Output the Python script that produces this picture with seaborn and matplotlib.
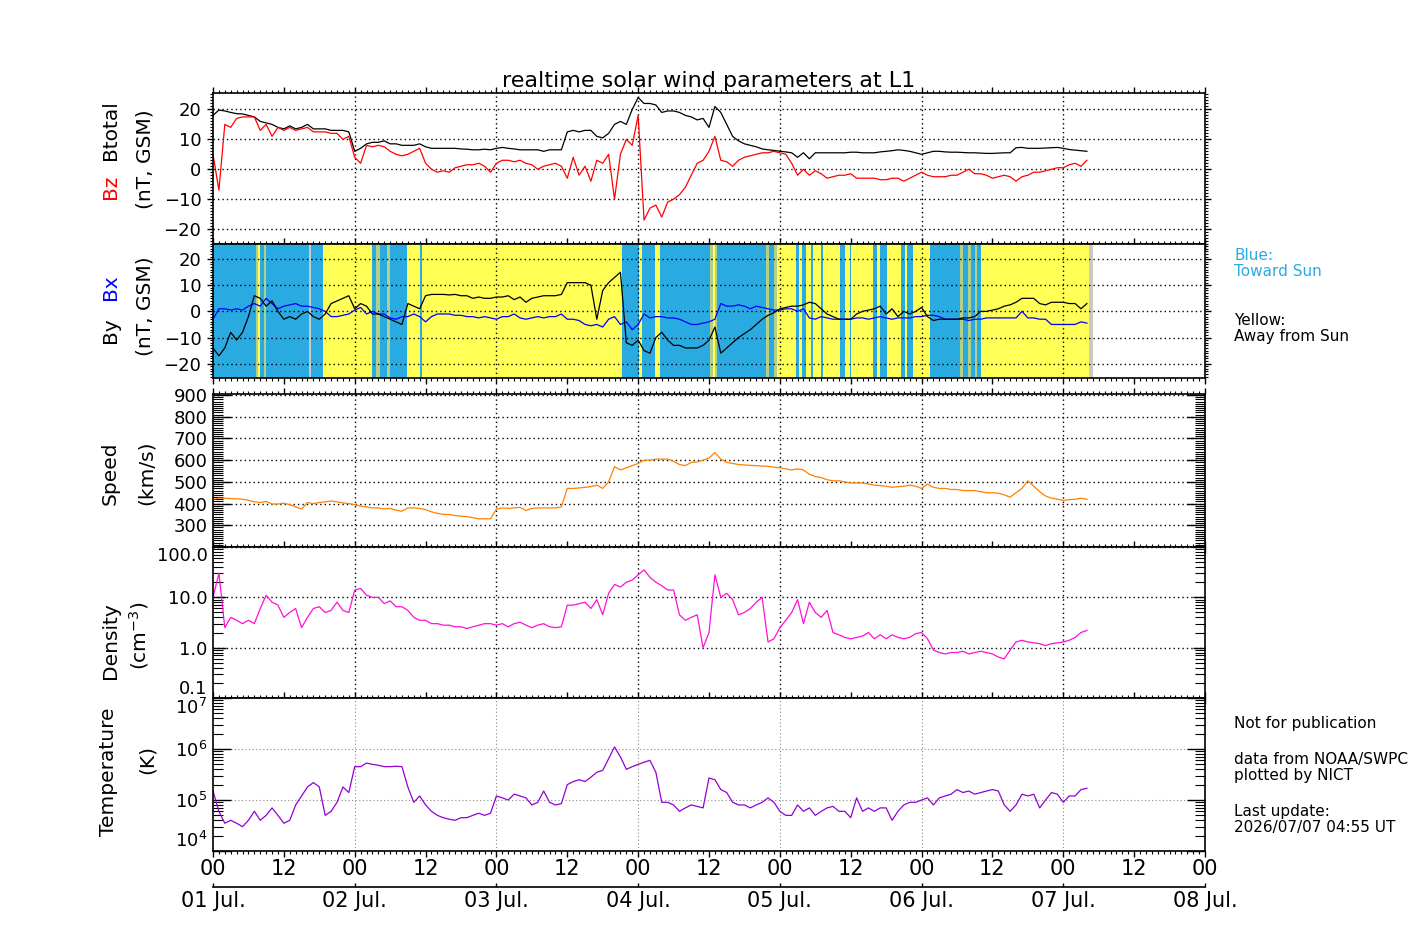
import numpy as np
import matplotlib
matplotlib.use('Agg')
import matplotlib.pyplot as plt
from matplotlib.ticker import MultipleLocator, LogLocator, FixedLocator, NullFormatter
import seaborn as sns

# hourly samples, hours since 01 Jul 00 UT
hours = np.arange(149)

btotal = [18, 19.8, 19.5, 19, 18.6, 18.5, 18, 17.5, 16, 15.5,
          15, 14, 13.5, 14.5, 13.5, 14, 15, 13.5, 13.5, 13.5,
          13, 13, 13, 12.5, 6, 7, 8.5, 9, 9, 9.5,
          8.5, 8.5, 8, 8, 8, 8.5, 7.5, 7, 7, 7,
          7, 7, 6.8, 6.7, 6.5, 6.5, 6.7, 6.5, 7, 7.3,
          7, 6.8, 6.5, 6.5, 6.5, 6.5, 6, 6.5, 6.5, 6.5,
          12.5, 13, 12.5, 13, 13, 11, 10.5, 12, 15, 16,
          15, 20, 24, 22, 22, 21.5, 19, 19.5, 19.5, 19,
          18, 17.5, 16.5, 17, 14, 21, 19, 15, 11, 9.5,
          8.5, 8, 7.5, 6.8, 6.5, 6.3, 6, 5.8, 5.5, 4,
          5.5, 3.5, 5.5, 5.5, 5.5, 5.5, 5.5, 5.5, 5.7, 5.7,
          5.5, 5.5, 5.5, 5.8, 6, 6.2, 6.5, 6.3, 6, 5.5,
          5, 5.5, 6, 6, 5.8, 5.7, 5.7, 5.6, 5.5, 5.5,
          5.4, 5.3, 5.3, 5.4, 5.5, 5.5, 7.2, 7.3, 7, 7,
          7, 7.1, 7.2, 7.3, 7, 6.6, 6.4, 6.2, 6]

bz = [5, -7, 15, 14, 17, 17.5, 17.5, 17.5, 13, 15,
      11, 14, 13, 14, 13, 13.5, 14, 12.5, 12.5, 12.5,
      12, 12, 10, 11, 4, 2, 8, 7.5, 8, 7.5,
      6, 5, 4.5, 5, 6, 7, 2, 0, -1, -0.5,
      -1, 0.5, 1, 1.5, 1.5, 2, 1, -1, 2, 3,
      3, 2.5, 3, 2, 1.5, 0, 1, 1.5, 2, 1,
      -3, 4, -2, 1, -4, 3, 2, 5, -10, 5,
      10, 8, 18, -17, -13, -12, -16, -11, -10, -8.5,
      -6, -2, 2, 3, 6, 11, 3, 2.5, 1, 3,
      4, 4.5, 5, 5.5, 5.5, 6, 5.5, 5, 2, -2,
      0, -2, -0.5, -1.5, -3, -2.5, -2, -2, -1.5, -3,
      -3, -3, -3, -3.5, -3.5, -3, -3, -4, -3, -2,
      -1, -2, -2.5, -2.5, -2.5, -2, -2, -1, 0, -1.5,
      -1.5, -2, -3, -2.5, -2, -2.5, -4, -2.5, -2, -1,
      -1, -0.5, 0, 0.5, 0.5, 1.5, 2, 1, 3]

by = [-14, -17, -14, -8, -11, -8, -2, 6, 5, 2,
      4, 0, -3, -2, -3, -1, 0, -2, -3, -1,
      3, 4, 5, 6, 1, 3, 2, -1, -1, -2,
      -3, -4, -5, 3, 2, 1, 6, 6.5, 6.5, 6.5,
      6.3, 6.5, 6, 6, 5, 5.5, 5, 5, 5.5, 5.5,
      6, 4.5, 5.5, 3.5, 5, 5.5, 6, 6, 6, 6.5,
      11, 11, 11, 11, 10, -3, 8, 11, 13, 15,
      -12, -13, -11, -15, -16, -10, -8, -11, -13, -13,
      -14, -14, -14, -13, -11, -6, -16, -14, -12, -10,
      -8.5, -7, -5, -3, -1.5, -0.5, 1, 1.5, 2, 2,
      2.5, 3.5, 3, 1, -1, -2, -3, -3, -3, -1,
      0, 0.5, 1, 2, -1, 1, -2, 0, -1, 0,
      1.5, -2, -3.5, -3, -3, -3, -3, -2.5, -2.5, -2,
      0, 0, 0.5, 1, 2, 2.5, 3.5, 5, 5, 5,
      3, 2.5, 3.5, 3.5, 3.5, 3, 3, 1, 3]

bx = [-3, 1, 1, 0.5, 1, 0.5, 2, 3, 2, 5,
      3, 1, 2, 2.5, 3, 2, 2, 1.5, 1, 0,
      -2, -2, -1.5, -1, 0.5, 1.5, -1, 0, -1, -1,
      -2.5, -3, -2, -2, -1, -2, -4, -2, -1, -1,
      -1, -1.5, -1.5, -2, -2, -2.5, -2, -2.5, -3, -2,
      -2, -1, -2.5, -3, -2.5, -2, -2.5, -2, -2, -1,
      -3, -3, -3.5, -5, -5.5, -5, -6, -3, -2, -5,
      -4, -7, -5, -1, -2.5, -2, -2, -2.5, -2.5, -3,
      -4, -5, -5, -4.5, -4, -3, 3, 2, 2, 2.5,
      2, 1, 2, 1.5, 1, 0.5, 0.5, 1, 1, 0,
      1, -2.5, -3, -2, -2.5, -3, -3, -3, -3, -2.5,
      -2.5, -3, -2.5, -2, -2.5, -3, -2.5, -2.5, -2.5, -2,
      -2, -1.5, -1.5, -2, -3, -3, -3, -3, -3.5, -3,
      -3, -2.5, -2.5, -2.5, -2.5, -2.5, -2.5, 0, -2.5, -2.5,
      -3, -3, -5, -5, -5, -5, -5, -4, -4.5]

speed = [420, 425, 425, 423, 422, 420, 415, 408, 405, 410,
         398, 398, 402, 395, 385, 375, 405, 400, 405, 408,
         412, 408, 403, 400, 395, 388, 385, 380, 380, 375,
         378, 370, 365, 380, 380, 378, 372, 362, 355, 350,
         350, 345, 342, 340, 335, 330, 330, 330, 375, 380,
         378, 380, 383, 368, 378, 380, 380, 380, 380, 385,
         470, 470, 472, 475, 478, 485, 470, 500, 570, 555,
         565, 575, 585, 600, 600, 605, 605, 605, 595, 580,
         575, 590, 592, 600, 610, 635, 605, 590, 585, 580,
         578, 576, 575, 573, 572, 568, 565, 560, 555, 560,
         555, 535, 525, 520, 510, 505, 505, 500, 495, 495,
         495, 490, 485, 483, 480, 475, 478, 480, 485, 480,
         470, 490, 475, 470, 470, 465, 465, 460, 460, 460,
         455, 450, 450, 448, 440, 430, 450, 470, 505, 480,
         455, 435, 425, 420, 415, 418, 420, 425, 420]

density = [10, 30, 2.5, 4, 3.5, 3, 3.5, 3, 6, 11,
           8, 7, 4, 5, 6, 2.5, 4, 6, 6.5, 5,
           5.5, 8, 5.5, 5, 14, 15, 11, 10, 10, 7.5,
           8.5, 6.5, 6.5, 5.5, 4, 3.5, 3.5, 3, 3, 2.8,
           2.8, 2.6, 2.6, 2.4, 2.6, 2.8, 3, 3, 2.8, 3,
           2.6, 3, 3.2, 2.8, 2.5, 2.8, 3, 2.6, 2.5, 2.6,
           7, 7, 7.5, 8, 6, 9, 4.5, 12, 18, 16,
           20, 22, 28, 35, 25, 20, 17, 14, 14, 4.5,
           3.5, 4, 4.5, 1, 2, 28, 10, 12, 9, 4.5,
           5, 6, 8, 10, 1.3, 1.5, 2.5, 3.5, 5, 9,
           3, 8, 5, 4, 5.5, 2, 1.8, 1.6, 1.5, 1.6,
           1.7, 2, 1.5, 1.8, 1.5, 1.8, 1.6, 1.5, 1.6, 1.9,
           2, 1.5, 0.9, 0.8, 0.75, 0.8, 0.8, 0.85, 0.75, 0.8,
           0.85, 0.8, 0.75, 0.65, 0.6, 0.9, 1.3, 1.4, 1.3, 1.25,
           1.2, 1.1, 1.2, 1.25, 1.3, 1.4, 1.6, 2, 2.2]

temperature = [1.5e5, 6e4, 3.5e4, 4e4, 3.5e4, 3e4, 4e4, 6e4, 4e4, 5e4,
               7e4, 5e4, 3.5e4, 4e4, 8e4, 1.2e5, 1.8e5, 2.2e5, 1.8e5, 5e4,
               6e4, 9e4, 1.8e5, 1.4e5, 4.5e5, 4.5e5, 5.3e5, 5e5, 4.8e5, 4.5e5,
               4.5e5, 4.6e5, 4.5e5, 1.8e5, 9e4, 1.2e5, 8e4, 6e4, 5e4, 4.5e4,
               4.2e4, 4e4, 4.5e4, 4.5e4, 5e4, 5.5e4, 5e4, 5.5e4, 1.2e5, 1.1e5,
               1e5, 1.3e5, 1.2e5, 1.1e5, 8e4, 9e4, 1.5e5, 9e4, 8e4, 8.5e4,
               2e5, 2.3e5, 2.5e5, 2.3e5, 2.8e5, 3.5e5, 3.8e5, 6.5e5, 1.1e6, 7e5,
               4e5, 4.5e5, 5e5, 5.5e5, 6e5, 3.5e5, 9e4, 9e4, 8e4, 6e4,
               7e4, 8e4, 7.5e4, 7e4, 2.7e5, 2.5e5, 1.6e5, 1.4e5, 9e4, 8e4,
               8e4, 7e4, 8e4, 9e4, 1.1e5, 9e4, 6e4, 5e4, 5e4, 8e4,
               6e4, 7e4, 5e4, 6e4, 7e4, 7.5e4, 6e4, 6e4, 4.5e4, 1.1e5,
               6e4, 7e4, 6e4, 7e4, 7e4, 4e4, 6e4, 8e4, 9e4, 9e4,
               1e5, 1.1e5, 8e4, 1.1e5, 1.2e5, 1.3e5, 1.6e5, 1.4e5, 1.5e5, 1.3e5,
               1.4e5, 1.5e5, 1.6e5, 1.5e5, 8e4, 6e4, 8e4, 1.3e5, 1.2e5, 1.3e5,
               7e4, 1e5, 1.4e5, 1.3e5, 9e4, 1.2e5, 1.2e5, 1.6e5, 1.7e5]

# IMF sector shading (hours): blue = toward Sun, rest up to data end = away
data_end = 149.0
blue_sectors = [(0, 7.2), (8.0, 8.6), (9.0, 16.2), (16.6, 18.7), (26.9, 27.6),
                (28.2, 29.5), (30.0, 32.8), (35.0, 35.4), (69.3, 72.1), (72.6, 74.9),
                (75.7, 84.2), (85.3, 93.7), (94.2, 95.0), (98.7, 99.3), (99.8, 100.4),
                (101.3, 101.6), (103.0, 103.3), (106.2, 107.0), (107.8, 108.1),
                (111.8, 112.4), (113.0, 114.1), (116.6, 117.2), (117.6, 118.6),
                (121.4, 126.5), (127.0, 127.8), (128.3, 129.0), (129.4, 130.0)]
mixed_sectors = [(7.2, 7.6), (8.6, 9.0), (27.6, 28.2), (29.5, 30.0), (84.2, 84.6),
                 (85.0, 85.3), (93.7, 94.2), (95.0, 95.6), (126.5, 127.0),
                 (127.8, 128.3), (129.0, 129.4)]
gray_sectors = [(16.2, 16.6), (148.4, 149.0)]

hour_labels = ['00', '12', '00', '12', '00', '12', '00', '12',
               '00', '12', '00', '12', '00', '12', '00']
day_labels = ['01 Jul.', '02 Jul.', '03 Jul.', '04 Jul.',
              '05 Jul.', '06 Jul.', '07 Jul.', '08 Jul.']

BLUE_BG = '#29abe2'
YELLOW_BG = '#ffff55'
MIXED_BG = '#b4cf86'
DOT = (0, (1, 2.2))

plt.rcParams['font.family'] = 'DejaVu Sans'
fig = plt.figure(figsize=(14.17, 9.44), dpi=100)
W, H = 1417.0, 944.0


def add_panel(top, bottom):
    return fig.add_axes([213 / W, 1 - bottom / H, 992 / W, (bottom - top) / H])


def style_panel(ax, gcolor, ydir, ymaj, ymin, glw=1.0):
    ax.set_xlim(0, 168)
    ax.xaxis.set_major_locator(MultipleLocator(12))
    ax.xaxis.set_minor_locator(MultipleLocator(1))
    ax.tick_params(axis='x', which='both', direction='out', top=True, bottom=True,
                   labelbottom=False)
    ax.tick_params(axis='x', which='major', length=4, width=1)
    ax.tick_params(axis='x', which='minor', length=2.2, width=0.8)
    ax.tick_params(axis='y', which='both', direction=ydir, left=True, right=True,
                   labelsize=13, pad=4)
    ax.tick_params(axis='y', which='major', length=ymaj, width=1)
    ax.tick_params(axis='y', which='minor', length=ymin, width=0.8)
    ax.grid(axis='y', which='major', color=gcolor, linestyle=DOT, linewidth=glw)
    for d in range(24, 168, 24):
        ax.axvline(d, color=gcolor, linestyle=DOT, linewidth=glw, zorder=1.5)
    for s in ax.spines.values():
        s.set_linewidth(1.2)
    ax.set_xlabel('')
    ax.set_ylabel('')


# panel 1: Btotal / Bz
ax1 = add_panel(93, 244)
sns.lineplot(x=hours, y=btotal, ax=ax1, color='black', linewidth=0.9, estimator=None)
sns.lineplot(x=hours, y=bz, ax=ax1, color='#ff0000', linewidth=0.9, estimator=None)
ax1.set_ylim(-25, 25.5)
ax1.yaxis.set_major_locator(FixedLocator([-20, -10, 0, 10, 20]))
ax1.yaxis.set_minor_locator(MultipleLocator(1))
style_panel(ax1, 'black', 'out', 4.3, 2.2)

# panel 2: Bx / By with sector shading
ax2 = add_panel(244, 378)
ax2.axvspan(0, data_end, color=YELLOW_BG, lw=0, zorder=0.5)
for s, e in blue_sectors:
    ax2.axvspan(s, e, color=BLUE_BG, lw=0, zorder=0.6)
for s, e in mixed_sectors:
    ax2.axvspan(s, e, color=MIXED_BG, lw=0, zorder=0.6)
for s, e in gray_sectors:
    ax2.axvspan(s, e, color='#c8c8c8', lw=0, zorder=0.6)
sns.lineplot(x=hours, y=bx, ax=ax2, color='#0000ff', linewidth=0.9, estimator=None)
sns.lineplot(x=hours, y=by, ax=ax2, color='black', linewidth=0.9, estimator=None)
ax2.set_ylim(-25.5, 25.8)
ax2.yaxis.set_major_locator(FixedLocator([-20, -10, 0, 10, 20]))
ax2.yaxis.set_minor_locator(MultipleLocator(1))
style_panel(ax2, 'black', 'out', 4.3, 2.2)

# panel 3: speed
ax3 = add_panel(394, 547)
sns.lineplot(x=hours, y=speed, ax=ax3, color='#ff8000', linewidth=0.9, estimator=None)
ax3.set_ylim(200, 905)
ax3.yaxis.set_major_locator(FixedLocator([300, 400, 500, 600, 700, 800, 900]))
ax3.yaxis.set_minor_locator(MultipleLocator(10))
style_panel(ax3, 'black', 'in', 13, 7)

# panel 4: density
ax4 = add_panel(547, 698)
ax4.set_yscale('log')
sns.lineplot(x=hours, y=density, ax=ax4, color='#ff10d8', linewidth=0.9, estimator=None)
ax4.set_ylim(0.1, 100)
ax4.set_yticks([0.1, 1, 10, 100], ['0.1', '1.0', '10.0', '100.0'])
ax4.yaxis.set_minor_locator(LogLocator(base=10, subs=np.arange(2, 10)))
ax4.yaxis.set_minor_formatter(NullFormatter())
style_panel(ax4, 'black', 'in', 9, 7)
lab = ax4.yaxis.get_majorticklabels()
lab[0].set_va('bottom')
lab[-1].set_va('top')

# panel 5: temperature
ax5 = add_panel(698, 851)
ax5.set_yscale('log')
sns.lineplot(x=hours, y=temperature, ax=ax5, color='#9400d3', linewidth=0.9, estimator=None)
ax5.set_ylim(1e4, 1e7)
ax5.set_yticks([1e4, 1e5, 1e6, 1e7],
               ['$10^{4}$', '$10^{5}$', '$10^{6}$', '$10^{7}$'])
ax5.yaxis.set_minor_locator(LogLocator(base=10, subs=np.arange(2, 10)))
ax5.yaxis.set_minor_formatter(NullFormatter())
style_panel(ax5, '#888888', 'in', 13, 7, glw=0.8)
lab = ax5.yaxis.get_majorticklabels()
lab[0].set_va('bottom')
lab[-1].set_va('top')
ax5.set_xticks(range(0, 169, 12), hour_labels)
ax5.tick_params(axis='x', which='major', labelbottom=True, labelsize=15, pad=2)

sec = ax5.secondary_xaxis(-0.233)
sec.set_xticks(range(0, 169, 24), day_labels)
sec.tick_params(axis='x', direction='in', length=3, width=1, labelsize=15, pad=3)
sec.spines['bottom'].set_linewidth(1.2)

# title and axis labels
fig.text(709 / W, 1 - 87 / H, 'realtime solar wind parameters at L1',
         ha='center', va='baseline', fontsize=16)


def vlabel(x, y, s, color='black', size=14.5):
    fig.text(x / W, 1 - y / H, s, rotation=90, ha='center', va='center',
             color=color, fontsize=size)


vlabel(110, 130, 'Btotal')
vlabel(110, 187, 'Bz', color='#ff0000')
vlabel(145, 159, '(nT, GSM)')
vlabel(110, 330, 'By')
vlabel(110, 287, 'Bx', color='#0000ff')
vlabel(145, 306, '(nT, GSM)')
vlabel(110, 473, 'Speed')
vlabel(146, 473, '(km/s)')
vlabel(110, 641, 'Density')
vlabel(139, 636, '(cm$^{-3}$)')
vlabel(108, 772, 'Temperature')
vlabel(147, 760, '(K)')

# side notes
tx = 1234 / W
fig.text(tx, 1 - 248 / H, 'Blue:\nToward Sun', color=BLUE_BG, fontsize=11,
         va='top', ha='left', linespacing=1.05)
fig.text(tx, 1 - 313 / H, 'Yellow:\nAway from Sun', color='black', fontsize=11,
         va='top', ha='left', linespacing=1.05)
fig.text(tx, 1 - 716 / H, 'Not for publication', fontsize=11, va='top', ha='left')
fig.text(tx, 1 - 752 / H, 'data from NOAA/SWPC\nplotted by NICT', fontsize=11,
         va='top', ha='left', linespacing=1.05)
fig.text(tx, 1 - 804 / H, 'Last update:\n2026/07/07 04:55 UT', fontsize=11,
         va='top', ha='left', linespacing=1.05)

fig.savefig('out.png', dpi=100)
